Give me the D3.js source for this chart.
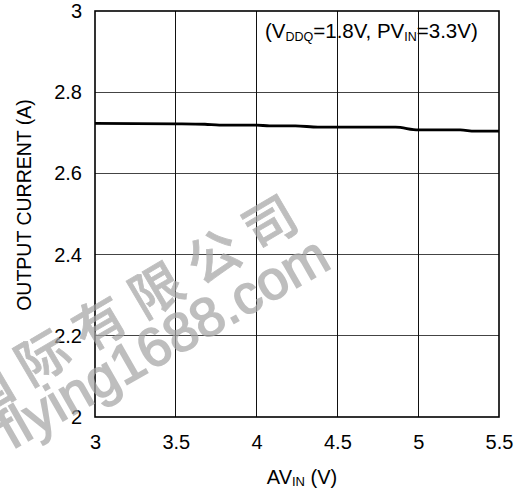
<!DOCTYPE html>
<html>
<head>
<meta charset="utf-8">
<script src="https://cdn.jsdelivr.net/npm/d3@7"></script>
<style>
html,body{margin:0;padding:0;background:#fff;}
svg{display:block;font-family:"Liberation Sans",Arial,Helvetica,sans-serif;}
</style>
</head>
<body>
<svg id="chart" width="521" height="490"></svg>
<script>
// Data
const avin = [3.0, 3.5, 3.68, 3.77, 4.0, 4.08, 4.24, 4.38, 4.5, 4.86, 5.0, 5.26, 5.35, 5.5];
const current = [2.723, 2.722, 2.721, 2.719, 2.719, 2.717, 2.717, 2.714, 2.714, 2.714, 2.707, 2.707, 2.704, 2.704];
const xTicks = [3, 3.5, 4, 4.5, 5, 5.5];
const yTicks = [2, 2.2, 2.4, 2.6, 2.8, 3];
const xTickLabels = ["3", "3.5", "4", "4.5", "5", "5.5"];
const yTickLabels = ["2", "2.2", "2.4", "2.6", "2.8", "3"];

const svg = d3.select("#chart");
const m = {left: 95, top: 11, right: 22, bottom: 73};
const W = 521 - m.left - m.right, H = 490 - m.top - m.bottom;

const x = d3.scaleLinear().domain([3, 5.5]).range([0, W]);
const y = d3.scaleLinear().domain([2, 3]).range([H, 0]);

const g = svg.append("g").attr("transform", `translate(${m.left},${m.top})`);

// grid
g.append("g").selectAll("line").data(yTicks.slice(1, -1)).join("line")
  .attr("x1", 0).attr("x2", W).attr("y1", d => y(d)).attr("y2", d => y(d))
  .attr("stroke", "#444").attr("stroke-width", 1).attr("shape-rendering", "crispEdges");
g.append("g").selectAll("line").data(xTicks.slice(1, -1)).join("line")
  .attr("y1", 0).attr("y2", H).attr("x1", d => x(d)).attr("x2", d => x(d))
  .attr("stroke", "#111").attr("stroke-width", 1).attr("shape-rendering", "crispEdges");

// axes (labels only)
const xAxis = d3.axisBottom(x).tickValues(xTicks).tickSize(0).tickPadding(18)
  .tickFormat((d, i) => xTickLabels[i]);
const yAxis = d3.axisLeft(y).tickValues(yTicks).tickSize(0).tickPadding(13)
  .tickFormat((d, i) => yTickLabels[i]);
const gx = g.append("g").attr("transform", `translate(0,${H})`).call(xAxis);
const gy = g.append("g").call(yAxis);
[gx, gy].forEach(a => {
  a.select(".domain").remove();
  a.selectAll("text").attr("font-size", 20).attr("fill", "#000")
    .attr("font-family", "Liberation Sans, Arial, sans-serif");
});

// frame
g.append("rect").attr("x", 0).attr("y", 0).attr("width", W).attr("height", H)
  .attr("fill", "none").attr("stroke", "#000").attr("stroke-width", 1.6);

// data line
const line = d3.line().x((d, i) => x(avin[i])).y(d => y(d)).curve(d3.curveMonotoneX);
g.append("path").datum(current).attr("d", line)
  .attr("fill", "none").attr("stroke", "#000").attr("stroke-width", 2.8);

// annotation
const ann = g.append("text").attr("x", 170).attr("y", 27)
  .attr("font-size", 20.5).attr("fill", "#000");
ann.append("tspan").text("(V");
ann.append("tspan").text("DDQ").attr("font-size", 12.5).attr("dy", 3);
ann.append("tspan").text("=1.8V, PV").attr("dy", -3);
ann.append("tspan").text("IN").attr("font-size", 12.5).attr("dy", 3);
ann.append("tspan").text("=3.3V)").attr("dy", -3);

// axis titles
const xt = svg.append("text").attr("x", 302).attr("y", 484)
  .attr("text-anchor", "middle").attr("font-size", 20).attr("fill", "#000");
xt.append("tspan").text("AV");
xt.append("tspan").text("IN").attr("font-size", 13).attr("dy", 2);
xt.append("tspan").text(" (V)").attr("dy", -2);

svg.append("text").attr("transform", "translate(31,205) rotate(-90)")
  .attr("text-anchor", "middle").attr("font-size", 19.5).attr("fill", "#000")
  .text("OUTPUT CURRENT (A)");

// watermark
const wm = svg.append("g").attr("fill", "#a6a6a6").attr("stroke", "#a6a6a6").attr("opacity", 0.72);
wm.append("text").attr("transform", "translate(-27,420) rotate(-30.5)")
  .attr("font-family", "Noto Sans CJK SC, sans-serif").attr("font-weight", 500)
  .attr("stroke-width", 0.8)
  .attr("font-size", 52).attr("letter-spacing", 14).text("国际有限公司");
wm.append("text").attr("transform", "translate(12,450) rotate(-29.7)")
  .attr("font-family", "Liberation Sans, Arial, sans-serif")
  .attr("stroke-width", 1.6)
  .attr("font-size", 55).text("flying1688.com");
</script>
</body>
</html>
